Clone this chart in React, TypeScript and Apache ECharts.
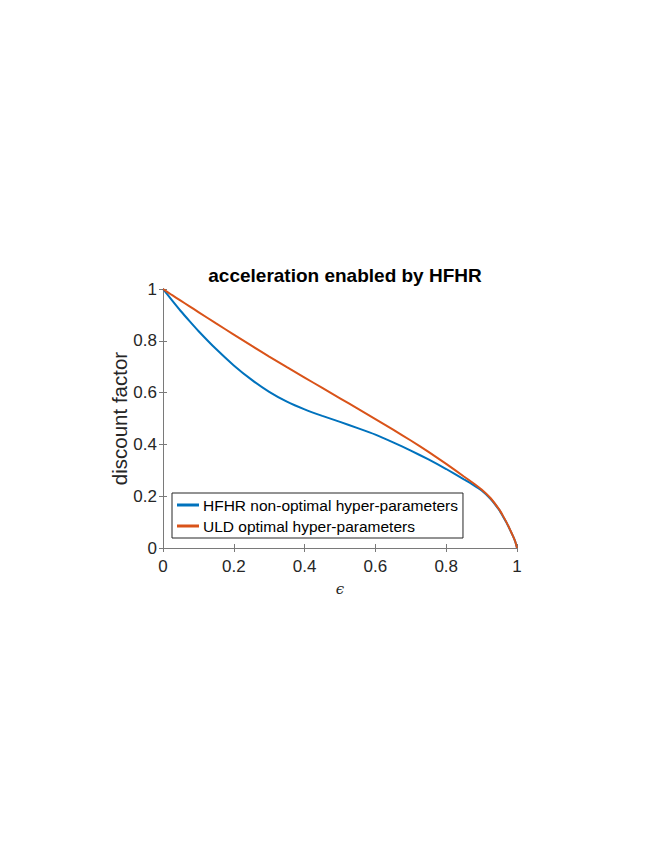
import React, { useEffect, useRef } from "react";
import * as echarts from "echarts";

const epsX = [0, 0.025, 0.05, 0.075, 0.1, 0.15, 0.2, 0.25, 0.3, 0.35, 0.4, 0.45, 0.5, 0.55, 0.6, 0.65, 0.7, 0.75, 0.8, 0.85, 0.875, 0.9, 0.925, 0.95, 0.96, 0.97, 0.98, 0.99, 0.995, 1.0];
const hfhrY = [1.0, 0.957, 0.915, 0.876, 0.838, 0.768, 0.705, 0.65, 0.603, 0.565, 0.535, 0.51, 0.487, 0.463, 0.438, 0.408, 0.376, 0.342, 0.305, 0.265, 0.245, 0.222, 0.19, 0.146, 0.123, 0.099, 0.071, 0.042, 0.025, 0];
const uldY = [1.0, 0.977, 0.955, 0.933, 0.911, 0.867, 0.824, 0.781, 0.739, 0.698, 0.658, 0.618, 0.578, 0.538, 0.498, 0.457, 0.415, 0.371, 0.325, 0.276, 0.252, 0.226, 0.193, 0.148, 0.125, 0.1, 0.072, 0.042, 0.025, 0];
const tickLabels = ["0", "0.2", "0.4", "0.6", "0.8", "1"];
const seriesNames = ["HFHR non-optimal hyper-parameters", "ULD optimal hyper-parameters"];
const colors = ["#0072BD", "#D95319"];

const FONT = "Liberation Sans, Arial, Helvetica, sans-serif";
const fmt = (v: number) => {
  const i = Math.round(v * 5);
  return i >= 0 && i < tickLabels.length && Math.abs(v * 5 - i) < 1e-6 ? tickLabels[i] : "";
};

export default function App() {
  const ref = useRef<HTMLDivElement>(null);
  useEffect(() => {
    if (!ref.current) return;
    const chart = echarts.init(ref.current, null, { renderer: "svg" });
    const axisLine = { show: true, lineStyle: { color: "#7a7a7a", width: 1 } };
    const axisTick = { show: true, inside: true, length: 4, lineStyle: { color: "#7a7a7a", width: 1 } };
    const labelStyle = { color: "#262626", fontSize: 17, fontFamily: FONT };
    chart.setOption({
      animation: false,
      backgroundColor: "#ffffff",
      title: {
        text: "acceleration enabled by HFHR",
        left: 332,
        textAlign: "center",
        top: 253,
        textStyle: { fontSize: 19, fontWeight: "bold", color: "#000", fontFamily: FONT },
      },
      grid: { left: 155, right: 139, top: 281, bottom: 304, containLabel: false },
      legend: {
        orient: "vertical",
        left: 164,
        top: 485,
        itemWidth: 22,
        itemHeight: 3,
        itemGap: 5,
        padding: [4, 5, 4, 5],
        borderColor: "#262626",
        borderWidth: 1,
        backgroundColor: "#ffffff",
        icon: "rect",
        textStyle: { fontSize: 15.5, color: "#000", fontFamily: FONT, padding: [0, 0, 0, -1] },
        data: seriesNames,
      },
      xAxis: [
        {
          type: "value",
          min: 0,
          max: 1,
          interval: 0.2,
          position: "bottom",
          axisLine,
          axisTick,
          splitLine: { show: false },
          axisLabel: { ...labelStyle, margin: 10, formatter: fmt },
          name: "ϵ",
          nameLocation: "middle",
          nameGap: 33,
          nameMoveOverlap: false,
          nameTextStyle: { fontSize: 15, fontStyle: "italic", fontFamily: "DejaVu Serif, serif", color: "#262626" },
        },
        {
          type: "value",
          min: 0,
          max: 1,
          interval: 0.2,
          position: "top",
          axisLine,
          axisTick,
          splitLine: { show: false },
          axisLabel: { show: false },
        },
      ],
      yAxis: [
        {
          type: "value",
          min: 0,
          max: 1,
          interval: 0.2,
          position: "left",
          axisLine,
          axisTick,
          splitLine: { show: false },
          axisLabel: { ...labelStyle, margin: 6, formatter: fmt },
          name: "discount factor",
          nameLocation: "middle",
          nameGap: 33,
          nameMoveOverlap: false,
          nameRotate: 90,
          nameTextStyle: { fontSize: 20.5, color: "#262626", fontFamily: FONT },
        },
        {
          type: "value",
          min: 0,
          max: 1,
          interval: 0.2,
          position: "right",
          axisLine,
          axisTick,
          splitLine: { show: false },
          axisLabel: { show: false },
        },
      ],
      series: [
        {
          name: seriesNames[0],
          type: "line",
          data: epsX.map((x, i) => [x, hfhrY[i]]),
          showSymbol: false,
          smooth: 0.15,
          lineStyle: { color: colors[0], width: 2 },
          itemStyle: { color: colors[0] },
          z: 2,
        },
        {
          name: seriesNames[1],
          type: "line",
          data: epsX.map((x, i) => [x, uldY[i]]),
          showSymbol: false,
          smooth: 0.15,
          lineStyle: { color: colors[1], width: 2 },
          itemStyle: { color: colors[1] },
          z: 3,
        },
      ],
    });
    return () => chart.dispose();
  }, []);
  return <div ref={ref} style={{ width: 648, height: 844 }} />;
}
